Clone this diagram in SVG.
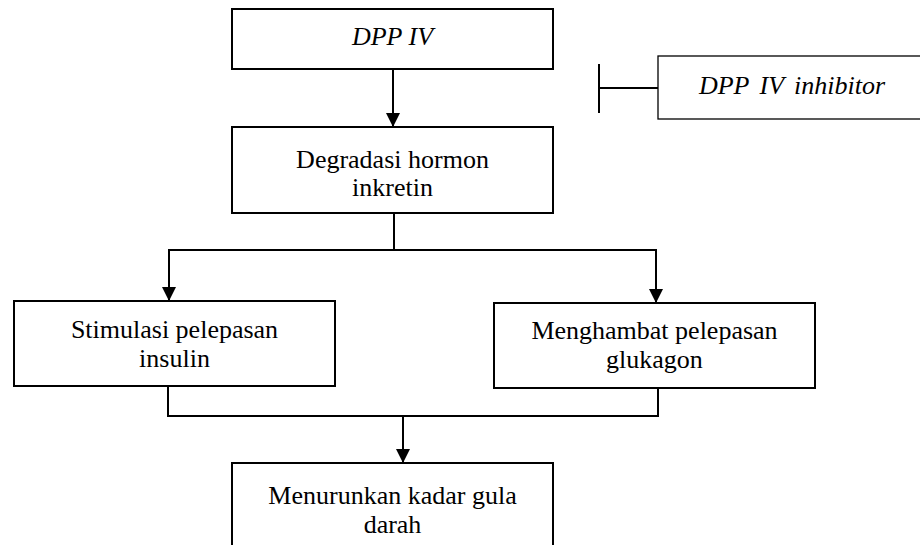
<svg xmlns="http://www.w3.org/2000/svg" width="920" height="545" viewBox="0 0 920 545">
  <style>
    .box { fill: #ffffff; stroke: #000000; stroke-width: 2; }
    .thin { fill: #ffffff; stroke: #000000; stroke-width: 1.3; }
    .lbl { font-family: "Liberation Serif", "Times New Roman", "DejaVu Serif", serif; font-size: 26px; fill: #000000; text-anchor: middle; }
    .it { font-style: italic; }
    .wire { fill: none; stroke: #000000; stroke-width: 2; }
  </style>
  <defs>
    <marker id="arrow" markerUnits="userSpaceOnUse" markerWidth="16" markerHeight="14" refX="16" refY="8" orient="auto" viewBox="0 0 16 16">
      <path d="M0,0 L16,8 L0,16 Z" fill="#000000"/>
    </marker>
  </defs>
  <rect width="920" height="545" fill="#ffffff"/>

  <g id="connectors">
    <line class="wire" x1="393" y1="69" x2="393" y2="127" marker-end="url(#arrow)"/>
    <polyline class="wire" points="394,213 394,250"/>
    <polyline class="wire" points="656,250 169,250 169,301" marker-end="url(#arrow)"/>
    <polyline class="wire" points="394,250 656,250 656,303" marker-end="url(#arrow)"/>
    <polyline class="wire" points="168,386 168,416 658,416 658,388"/>
    <line class="wire" x1="403" y1="416" x2="403" y2="463" marker-end="url(#arrow)"/>
    <!-- inhibition bar -->
    <line class="wire" x1="599" y1="88" x2="658" y2="88"/>
    <line class="wire" x1="599" y1="64" x2="599" y2="113"/>
  </g>

  <g id="dpp4">
    <rect class="box" x="232" y="9" width="321" height="60"/>
    <text class="lbl it" font-family="Liberation Serif, serif" x="392.5" y="45">DPP IV</text>
  </g>

  <g id="dpp4-inhibitor">
    <rect class="thin" x="658" y="56" width="270" height="63"/>
    <text class="lbl it" font-family="Liberation Serif, serif" x="792" y="94" font-size="29" word-spacing="4">DPP IV inhibitor</text>
  </g>

  <g id="degradasi">
    <rect class="box" x="232" y="127" width="321" height="86"/>
    <text class="lbl" font-family="Liberation Serif, serif" x="392.5" y="168">Degradasi hormon</text>
    <text class="lbl" font-family="Liberation Serif, serif" x="392.5" y="196">inkretin</text>
  </g>

  <g id="stimulasi">
    <rect class="box" x="14" y="301" width="321" height="85"/>
    <text class="lbl" font-family="Liberation Serif, serif" x="174.5" y="338">Stimulasi pelepasan</text>
    <text class="lbl" font-family="Liberation Serif, serif" x="174.5" y="367">insulin</text>
  </g>

  <g id="menghambat">
    <rect class="box" x="494" y="303" width="321" height="85"/>
    <text class="lbl" font-family="Liberation Serif, serif" x="654.5" y="339">Menghambat pelepasan</text>
    <text class="lbl" font-family="Liberation Serif, serif" x="654.5" y="368">glukagon</text>
  </g>

  <g id="menurunkan">
    <path class="box" d="M232,547 V463 H553 V547"/>
    <text class="lbl" font-family="Liberation Serif, serif" x="392.5" y="504">Menurunkan kadar gula</text>
    <text class="lbl" font-family="Liberation Serif, serif" x="392.5" y="533">darah</text>
  </g>
</svg>
